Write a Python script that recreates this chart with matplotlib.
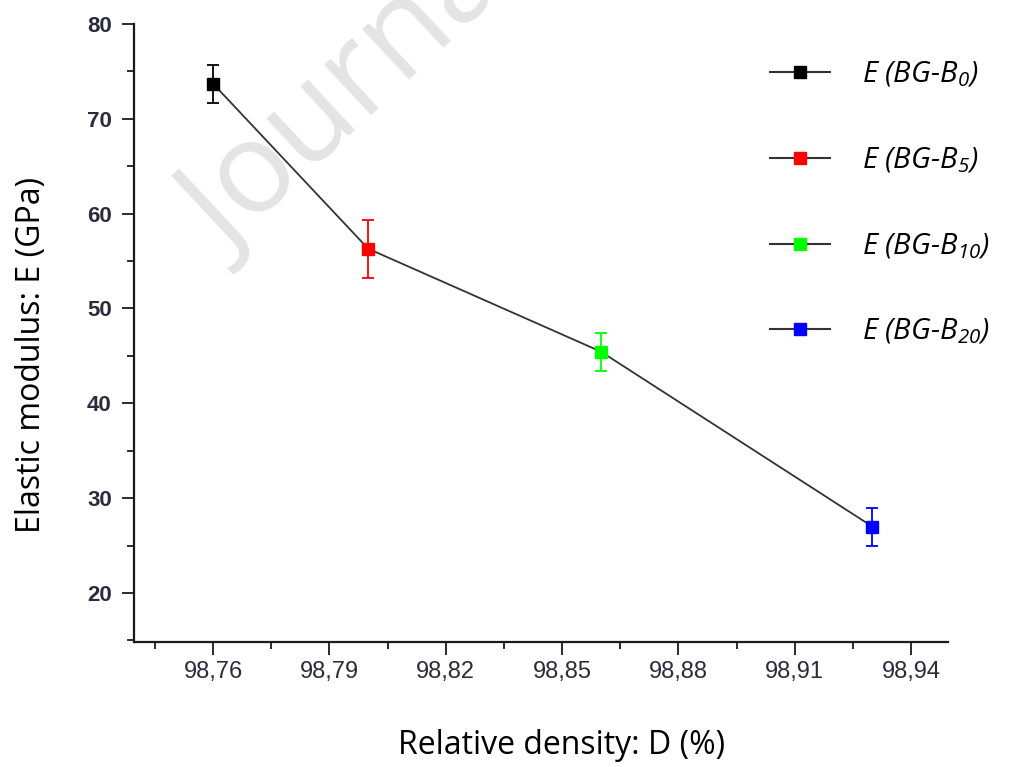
import matplotlib.pyplot as plt
from matplotlib.lines import Line2D
from matplotlib.ticker import AutoMinorLocator

# relative density (%) and elastic modulus (GPa) with error bars
density = [98.76, 98.80, 98.86, 98.93]
modulus = [73.7, 56.3, 45.45, 27.0]
mod_err = [2.0, 3.05, 2.0, 2.0]
colors = ['black', 'red', '#00ff00', 'blue']
labels = ['E (BG-B$_{0}$)', 'E (BG-B$_{5}$)', 'E (BG-B$_{10}$)', 'E (BG-B$_{20}$)']

x_ticks = [98.76, 98.79, 98.82, 98.85, 98.88, 98.91, 98.94]
x_tick_labels = ['98,76', '98,79', '98,82', '98,85', '98,88', '98,91', '98,94']
y_ticks = [20, 30, 40, 50, 60, 70, 80]

plt.rcParams['mathtext.fontset'] = 'custom'
plt.rcParams['mathtext.rm'] = 'Open Sans:italic'
plt.rcParams['mathtext.it'] = 'Open Sans:italic'

fig = plt.figure(figsize=(10.19, 7.67), dpi=100)
ax = fig.add_axes([134 / 1019, 1 - 642 / 767, 814 / 1019, 618 / 767])

# watermark behind the data
ax.text(228 / 1019, 1 - 258 / 767, 'Journal Pre-proof', transform=fig.transFigure,
        rotation=43, rotation_mode='anchor', ha='left', va='baseline',
        fontsize=92, family='Open Sans', color='#e4e4e4', zorder=0, clip_on=False)

ax.plot(density, modulus, color='#333333', linewidth=1.3, zorder=2)
for xi, yi, ei, c in zip(density, modulus, mod_err, colors):
    ax.errorbar(xi, yi, yerr=ei, fmt='s', color=c, markersize=9, capsize=4.5,
                elinewidth=1.3, capthick=1.3, zorder=3)

ax.set_xlim(98.7396, 98.9495)
ax.set_ylim(14.83, 80)
ax.set_xticks(x_ticks)
ax.set_xticklabels(x_tick_labels)
ax.set_yticks(y_ticks)
ax.xaxis.set_minor_locator(AutoMinorLocator(2))
ax.yaxis.set_minor_locator(AutoMinorLocator(2))

for s in ['top', 'right']:
    ax.spines[s].set_visible(False)
for s in ['left', 'bottom']:
    ax.spines[s].set_linewidth(1.6)
    ax.spines[s].set_color('#1a1a1a')

ax.tick_params(which='major', length=9, width=1.3, color='#1a1a1a')
ax.tick_params(which='minor', length=5, width=1.3, color='#1a1a1a')
ax.tick_params(axis='x', labelsize=17, pad=5, labelcolor='#2b2b3b')
ax.tick_params(axis='y', labelsize=16, pad=7, labelcolor='#2b2b3b')
for t in ax.get_yticklabels():
    t.set_fontweight('bold')
    t.set_family('Liberation Sans')
for t in ax.get_xticklabels():
    t.set_family('Liberation Sans')

ax.set_xlabel('Relative density: D (%)', family='Open Sans', fontsize=23)
ax.xaxis.set_label_coords((562 - 134) / 814, (642 - 729) / 618)
ax.set_ylabel('Elastic modulus: E (GPa)', family='Open Sans', fontsize=23)
ax.yaxis.set_label_coords((48 - 134) / 814, (642 - 355) / 618)

handles = [Line2D([], [], color='#333333', linewidth=1.5, marker='s', markersize=9,
                  markerfacecolor=c, markeredgecolor=c) for c in colors]
fig.legend(handles, labels, loc='upper left', bbox_to_anchor=(770 / 1019, 1 - 60 / 767),
           frameon=False, borderpad=0, borderaxespad=0, handlelength=2.05,
           handletextpad=1.1, labelspacing=1.92,
           prop={'family': 'Open Sans', 'style': 'italic', 'size': 21})

fig.savefig('out.png', dpi=100)
